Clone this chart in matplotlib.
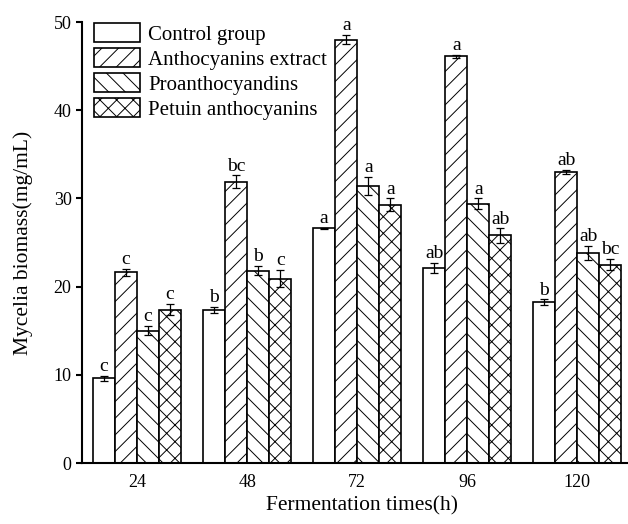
"""Mycelia biomass under different anthocyanin treatments"""

import matplotlib
matplotlib.use("Agg")
import matplotlib.pyplot as plt
import numpy as np

plt.rcParams['font.family'] = ['Liberation Serif', 'DejaVu Serif']
plt.rcParams['hatch.linewidth'] = 0.7

times = ["24", "48", "72", "96", "120"]
groups = ["Control group", "Anthocyanins extract", "Proanthocyandins", "Petuin anthocyanins"]

control = [9.6, 17.35, 26.6, 22.1, 18.25]
anthocyanins = [21.6, 31.9, 48.0, 46.1, 33.0]
proantho = [15.0, 21.8, 31.4, 29.4, 23.8]
petuin = [17.4, 20.9, 29.3, 25.8, 22.5]

control_err = [0.3, 0.3, 0.05, 0.6, 0.3]
anthocyanins_err = [0.4, 0.7, 0.5, 0.2, 0.2]
proantho_err = [0.5, 0.5, 1.0, 0.6, 0.8]
petuin_err = [0.6, 1.0, 0.7, 0.8, 0.6]

control_sig = ["c", "b", "a", "ab", "b"]
anthocyanins_sig = ["c", "bc", "a", "a", "ab"]
proantho_sig = ["c", "b", "a", "a", "ab"]
petuin_sig = ["c", "c", "a", "ab", "bc"]

series = [control, anthocyanins, proantho, petuin]
errors = [control_err, anthocyanins_err, proantho_err, petuin_err]
sigs = [control_sig, anthocyanins_sig, proantho_sig, petuin_sig]
hatches = ["", "//", "\\\\", "xx"]

fig = plt.figure(figsize=(6.28, 5.24), dpi=100)
ax = fig.add_axes([0.1306, 0.1164, 0.8694, 0.8416])

x = np.arange(len(times))
width = 0.2
for i, (vals, errs, sig, hatch, name) in enumerate(zip(series, errors, sigs, hatches, groups)):
    pos = x + (i - 1.5) * width
    ax.bar(pos, vals, width, color="white", edgecolor="black", linewidth=1.2,
           hatch=hatch, label=name)
    ax.errorbar(pos, vals, yerr=errs, fmt="none", ecolor="black",
                elinewidth=0.9, capsize=3, capthick=0.9)
    for p, v, e, s in zip(pos, vals, errs, sig):
        ax.text(p, v + e + 0.1, s, ha="center", va="bottom", fontsize=14)

ax.set_xlim(-0.5, 4.46)
ax.set_ylim(0, 50)
ax.set_xticks(x)
ax.set_xticklabels(times)
ax.set_yticks(np.arange(0, 51, 10))
ax.tick_params(axis="x", length=0, labelsize=13, pad=8)
ax.tick_params(axis="y", length=4, width=1.5, labelsize=13)
for side in ["top", "right"]:
    ax.spines[side].set_visible(False)
for side in ["left", "bottom"]:
    ax.spines[side].set_linewidth(1.5)

ax.set_ylabel("Mycelia biomass(mg/mL)", fontsize=15.5, labelpad=15)
ax.set_xlabel("Fermentation times(h)", fontsize=15.5, labelpad=7)
ax.xaxis.set_label_coords(0.512, -0.075)

ax.legend(loc="upper left", bbox_to_anchor=(0.02, 1.0), frameon=False,
          fontsize=15, handlelength=2.2, handleheight=1.05, labelspacing=0.15,
          handletextpad=0.4, borderaxespad=0.0, borderpad=0.05)

plt.savefig("out.png", dpi=100)
